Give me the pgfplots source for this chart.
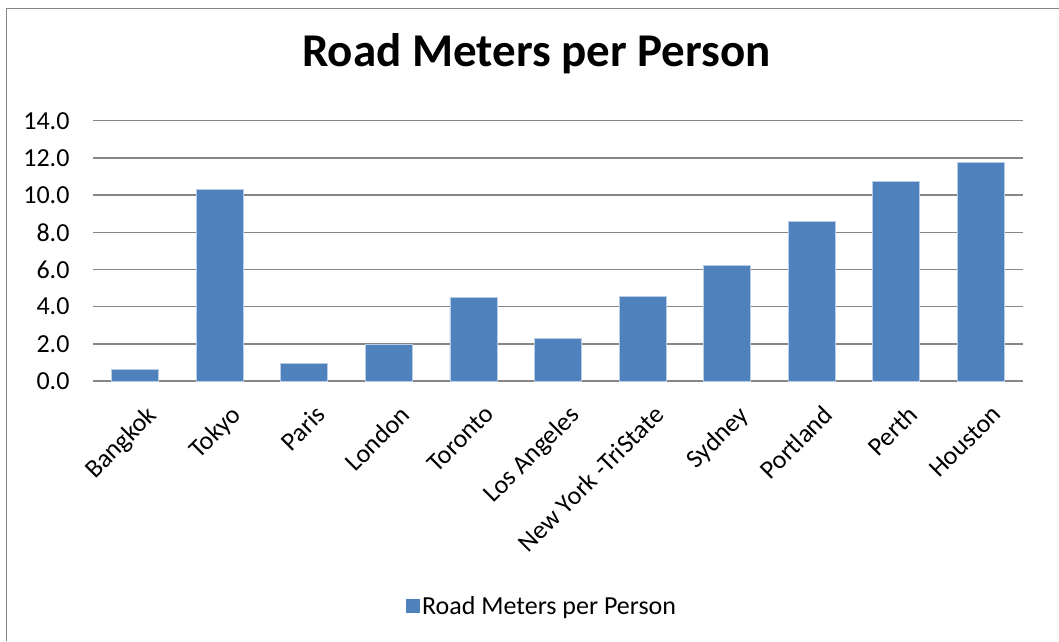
\documentclass[border=0pt]{standalone}
\usepackage{pgfplots}
\pgfplotsset{compat=1.18}
\usepackage{fontspec}
\setmainfont{Carlito}
\definecolor{barblue}{RGB}{79,129,189}
\definecolor{baredge}{RGB}{185,205,229}
\definecolor{gridgray}{RGB}{134,134,134}
\begin{document}
\begin{tikzpicture}[x=1pt,y=1pt]
\useasboundingbox (0,0) rectangle (1059,641);
\draw[gridgray, line width=1.5pt] (6.5,0) -- (6.5,632.5) -- (1059,632.5);
\begin{axis}[
  at={(93pt,260pt)}, anchor=south west,
  scale only axis, width=930pt, height=260.3pt,
  xmin=-0.5, xmax=10.5, ymin=0, ymax=14,
  ytick={0,2,...,14},
  yticklabel={\pgfmathprintnumber[fixed,fixed zerofill,precision=1]{\tick}},
  /pgf/number format/assume math mode=true,
  xtick=data,
  xticklabels={Bangkok,Tokyo,Paris,London,Toronto,Los Angeles,New York -TriState,Sydney,Portland,Perth,Houston},
  major tick length=0pt,
  axis line style={draw=none},
  ymajorgrids, grid style={gridgray, line width=1.5pt},
  tick label style={font=\fontsize{26}{30}\selectfont},
  yticklabel style={anchor=east, xshift=-20pt},
  xticklabel style={rotate=45, anchor=north east, xshift=-9pt, yshift=-23pt, inner sep=0pt},
  ybar, bar width=47pt,
  title={\fontsize{47}{56}\selectfont\bfseries Road Meters per Person},
  title style={at={(0.477,1.233)}, anchor=center},
  legend style={at={(0.483,-0.864)}, anchor=center, draw=none, font=\fontsize{26}{30}\selectfont, inner sep=0pt},
  legend image code/.code={\fill[barblue] (0pt,-6.5pt) rectangle (13pt,6.5pt);},
]
\addplot[fill=barblue, draw=baredge, line width=0.75pt] coordinates {
(0,0.64) (1,10.32) (2,0.93) (3,1.99) (4,4.48) (5,2.29) (6,4.57) (7,6.21) (8,8.60) (9,10.75) (10,11.75)
};
\addlegendentry{Road Meters per Person}
\end{axis}
\end{tikzpicture}
\end{document}
